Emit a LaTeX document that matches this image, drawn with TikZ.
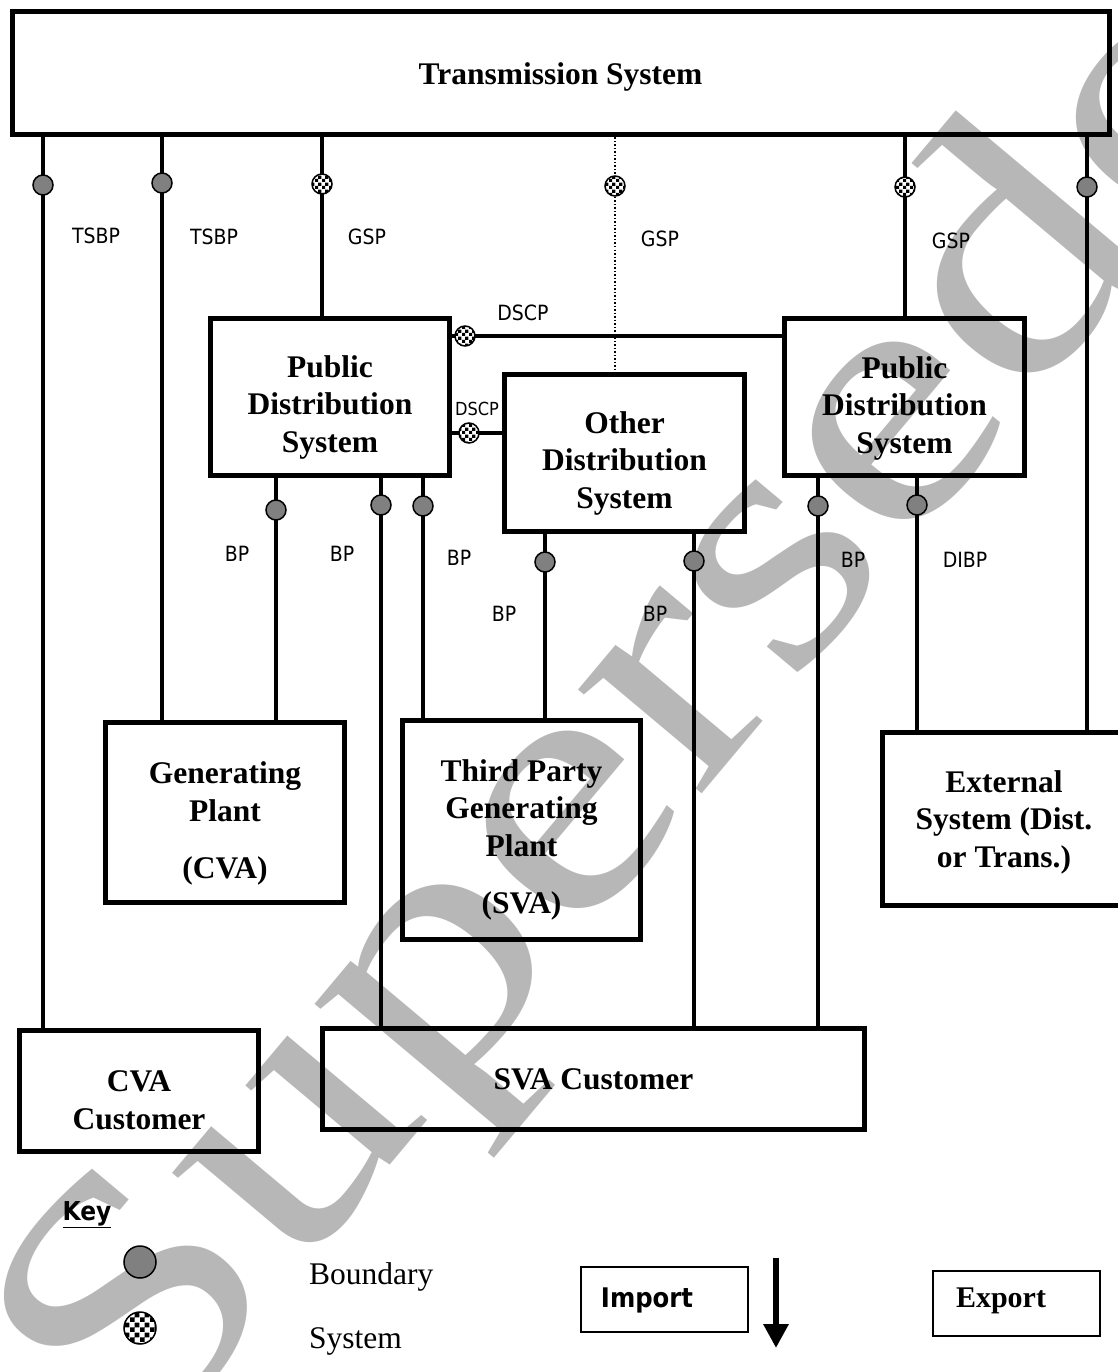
\documentclass[tikz,border=0pt]{standalone}
\usepackage{fontspec}
\setmainfont{Liberation Serif}
\newfontfamily\labfont{DejaVu Sans Condensed}
\usetikzlibrary{patterns,arrows.meta}
\pgfdeclarepatternformonly{checkS}{\pgfpointorigin}{\pgfqpoint{7pt}{7pt}}{\pgfqpoint{7pt}{7pt}}{%
 \pgfpathrectangle{\pgfpointorigin}{\pgfqpoint{3.5pt}{3.5pt}}%
 \pgfpathrectangle{\pgfqpoint{3.5pt}{3.5pt}}{\pgfqpoint{3.5pt}{3.5pt}}%
 \pgfusepath{fill}}
\pgfdeclarepatternformonly{checkL}{\pgfpointorigin}{\pgfqpoint{10pt}{10pt}}{\pgfqpoint{10pt}{10pt}}{%
 \pgfpathrectangle{\pgfpointorigin}{\pgfqpoint{5pt}{5pt}}%
 \pgfpathrectangle{\pgfqpoint{5pt}{5pt}}{\pgfqpoint{5pt}{5pt}}%
 \pgfusepath{fill}}
\definecolor{wm}{RGB}{183,183,183}
\definecolor{bgray}{RGB}{128,128,128}
\tikzset{
 box/.style={draw, line width=5pt, inner sep=0pt},
 btext/.style={inner sep=0pt, align=center, font=\bfseries\fontsize{31.5}{37.5}\selectfont},
 thinbox/.style={draw, line width=2pt, inner sep=0pt},
 conn/.style={line width=4pt},
 bcirc/.style={circle, draw, line width=1.5pt, fill=bgray, minimum size=20pt, inner sep=0pt},
 scirc/.style={circle, draw, line width=1.5pt, preaction={fill=white}, pattern=checkS, minimum size=20pt, inner sep=0pt},
 lab/.style={font=\labfont\fontsize{21}{24}\selectfont, inner sep=0pt},
 slab/.style={font=\labfont\fontsize{18}{20}\selectfont, inner sep=0pt},
 keytext/.style={font=\fontsize{31.5}{36}\selectfont, inner sep=0pt, anchor=base west},
}
\begin{document}
\begin{tikzpicture}[x=1pt,y=-1pt]
\useasboundingbox (0,0) rectangle (1117,1372);
% watermark
\node[text=wm, rotate=50, font=\fontsize{335}{335}\selectfont, inner sep=0pt] (wmark) at (717,644) {\scalebox{1.3}[1.05]{Superseded}};
% boxes
\node[box, minimum width=1097pt, minimum height=123pt] (ts) at (560.5,73.5) {};
\node[box, minimum width=239pt, minimum height=157pt] (pds1) at (330,397) {};
\node[box, minimum width=240pt, minimum height=157pt] (ods) at (624.5,453) {};
\node[box, minimum width=240pt, minimum height=157pt] (pds2) at (904.5,397) {};
\node[box, minimum width=239pt, minimum height=180pt] (gp) at (225,812.5) {};
\node[box, minimum width=238pt, minimum height=219pt] (tp) at (521.5,830) {};
\node[box, minimum width=243pt, minimum height=173pt] (ext) at (1004,819) {};
\node[box, minimum width=239pt, minimum height=121pt] (cva) at (139,1091) {};
\node[box, minimum width=542pt, minimum height=101pt] (sva) at (593.5,1079) {};
% box texts
\node[btext] (tst) at ([yshift=-3pt]ts.center) {Transmission System};
\node[btext] (pds1t) at ([yshift=-10pt]pds1.center) {Public\\Distribution\\System};
\node[btext] (odst) at ([yshift=-10pt]ods.center) {Other\\Distribution\\System};
\node[btext] (pds2t) at ([yshift=-11pt]pds2.center) {Public\\Distribution\\System};
\node[btext] (gpt) at ([yshift=-11pt]gp.center) {Generating\\Plant\\[20pt](CVA)};
\node[btext] (tpt) at ([yshift=-10pt]tp.center) {Third Party\\Generating\\Plant\\[20pt](SVA)};
\node[btext] (extt) at ([yshift=-3pt]ext.center) {External\\System (Dist.\\or Trans.)};
\node[btext] (cvat) at ([yshift=-9pt]cva.center) {CVA\\Customer};
\node[btext] (svat) at (sva.center) {SVA Customer};
% connector positions
\coordinate (t1) at (43,185);
\coordinate (t2) at (162,183);
\coordinate (g1) at (322,184);
\coordinate (g2) at (615,186);
\coordinate (g3) at (905,187);
\coordinate (t3) at (1087,187);
\coordinate (b1) at (276,510);
\coordinate (b2) at (381,505);
\coordinate (b3) at (423,506);
\coordinate (b4) at (545,562);
\coordinate (b5) at (694,561);
\coordinate (b6) at (818,506);
\coordinate (b7) at (917,505);
\coordinate (d1) at (465,336);
\coordinate (d2) at (469,433);
% connectors
\draw[conn] (ts.south -| t1) -- (cva.north -| t1);
\draw[conn] (ts.south -| t2) -- (gp.north -| t2);
\draw[conn] (ts.south -| g1) -- (pds1.north -| g1);
\draw[line width=1.5pt, dotted] (ts.south -| g2) -- (ods.north -| g2);
\draw[conn] (ts.south -| g3) -- (pds2.north -| g3);
\draw[conn] (ts.south -| t3) -- (ext.north -| t3);
\draw[conn] (pds1.south -| b1) -- (gp.north -| b1);
\draw[conn] (pds1.south -| b2) -- (sva.north -| b2);
\draw[conn] (pds1.south -| b3) -- (tp.north -| b3);
\draw[conn] (ods.south -| b4) -- (tp.north -| b4);
\draw[conn] (ods.south -| b5) -- (sva.north -| b5);
\draw[conn] (pds2.south -| b6) -- (sva.north -| b6);
\draw[conn] (pds2.south -| b7) -- (ext.north -| b7);
\draw[conn] (pds1.east |- d1) -- (pds2.west |- d1);
\draw[conn] (pds1.east |- d2) -- (ods.west |- d2);
% boundary points
\node[bcirc] (ct1) at (t1) {};
\node[bcirc] (ct2) at (t2) {};
\node[scirc] (cg1) at (g1) {};
\node[scirc] (cg2) at (g2) {};
\node[scirc] (cg3) at (g3) {};
\node[bcirc] (ct3) at (t3) {};
\node[bcirc] (cb1) at (b1) {};
\node[bcirc] (cb2) at (b2) {};
\node[bcirc] (cb3) at (b3) {};
\node[bcirc] (cb4) at (b4) {};
\node[bcirc] (cb5) at (b5) {};
\node[bcirc] (cb6) at (b6) {};
\node[bcirc] (cb7) at (b7) {};
\node[scirc] (cd1) at (d1) {};
\node[scirc] (cd2) at (d2) {};
% labels
\node[lab] (l1) at (96,236) {TSBP};
\node[lab] (l2) at (214,237) {TSBP};
\node[lab] (l3) at (367,237) {GSP};
\node[lab] (l4) at (660,239) {GSP};
\node[lab] (l5) at (951,241) {GSP};
\node[lab] (l6) at (523,313) {DSCP};
\node[slab] (l7) at (477,409) {DSCP};
\node[lab] (l8) at (237,554) {BP};
\node[lab] (l9) at (342,554) {BP};
\node[lab] (l10) at (459,558) {BP};
\node[lab] (l11) at (504,614) {BP};
\node[lab] (l12) at (655,614) {BP};
\node[lab] (l13) at (853,560) {BP};
\node[lab] (l14) at (965,560) {DIBP};
% key
\node[font=\labfont\bfseries\fontsize{26}{28}\selectfont, inner sep=0pt] (key) at (87,1215) {\underline{Key}};
\node[circle, draw, line width=1.5pt, fill=bgray, minimum size=32pt, inner sep=0pt] (kb) at (140,1262) {};
\node[circle, draw, line width=1.5pt, preaction={fill=white}, pattern=checkL, minimum size=32pt, inner sep=0pt] (ks) at (140,1328) {};
\node[keytext] (kbt) at (309,1284) {Boundary};
\node[keytext] (kst) at (309,1348) {System};
\node[thinbox, minimum width=167pt, minimum height=65pt] (imp) at (664,1299) {};
\node[font=\labfont\bfseries\fontsize{27}{30}\selectfont, inner sep=0pt] (impt) at (647,1300) {Import};
\node[thinbox, minimum width=167pt, minimum height=65pt] (exp) at (1016.5,1303) {};
\node[font=\bfseries\fontsize{30}{34}\selectfont, inner sep=0pt] (expt) at (1001,1301) {Export};
\coordinate (atop) at (776,1258);
\coordinate (abot) at (776,1348);
\draw[line width=6pt, -{Triangle[width=24pt,length=24pt]}] (atop) -- (abot);
\end{tikzpicture}
\end{document}
